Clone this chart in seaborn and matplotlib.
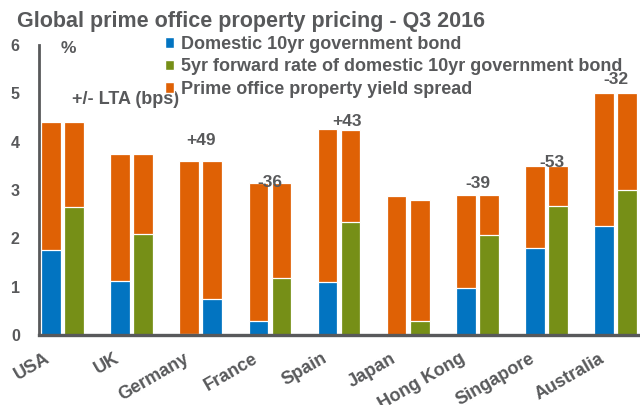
import matplotlib
matplotlib.use("Agg")
import matplotlib.pyplot as plt
from matplotlib.patches import Patch
from matplotlib.transforms import ScaledTranslation
import pandas as pd
import seaborn as sns

# ---- data -------------------------------------------------------------
countries = ["USA", "UK", "Germany", "France", "Spain", "Japan",
             "Hong Kong", "Singapore", "Australia"]
gov_10yr = [1.75, 1.11, 0.03, 0.30, 1.09, -0.04, 0.97, 1.80, 2.26]
fwd_5yr = [2.65, 2.10, 0.75, 1.18, 2.34, 0.29, 2.07, 2.66, 3.01]
# prime office yield = bond + spread (top of each stacked bar)
prime_yield_now = [4.40, 3.74, 3.60, 3.15, 4.26, 2.87, 2.90, 3.49, 5.00]
prime_yield_fwd = [4.40, 3.74, 3.60, 3.15, 4.25, 2.79, 2.90, 3.49, 5.00]
# series colour used for the base of the second bar of each pair
fwd_base_series = ["fwd", "fwd", "gov", "fwd", "fwd", "fwd", "fwd", "fwd", "fwd"]
lta_bps = ["", "", "+49", "-36", "+43", "", "-39", "-53", "-32"]

S_GOV = "Domestic 10yr government bond"
S_FWD = "5yr forward rate of domestic 10yr government bond"
S_SPREAD = "Prime office property yield spread"

# ---- styling ------------------------------------------------------------
BLUE = "#0274C1"
GREEN = "#768F17"
ORANGE = "#DF6105"
GREY = "#58595B"

sns.set_style("white")
plt.rcParams["font.family"] = ["Liberation Sans", "DejaVu Sans"]
plt.rcParams["font.weight"] = "bold"

# ---- long tables for seaborn -------------------------------------------
series_name = {"gov": S_GOV, "fwd": S_FWD}
base_rows, top_rows = [], []
for k, c in enumerate(countries):
    p1, p2 = 3 * k + 0.5, 3 * k + 1.5
    base_rows.append((p1, gov_10yr[k], S_GOV))
    base_rows.append((p2, fwd_5yr[k], series_name[fwd_base_series[k]]))
    top_rows.append((p1, prime_yield_now[k]))
    top_rows.append((p2, prime_yield_fwd[k]))
df_base = pd.DataFrame(base_rows, columns=["pos", "value", "series"])
df_top = pd.DataFrame(top_rows, columns=["pos", "value"])

fig = plt.figure(figsize=(6.4, 4.05), dpi=100)
ax = fig.add_axes([39.3 / 640, 70 / 405, 599.5 / 640, 290 / 405])

bar_kw = dict(native_scale=True, orient="x", width=0.85, errorbar=None,
              saturation=1, edgecolor="white", linewidth=0.9, clip_on=False, ax=ax)
sns.barplot(data=df_top, x="pos", y="value", color=ORANGE, **bar_kw)
sns.barplot(data=df_base, x="pos", y="value", hue="series",
            palette={S_GOV: BLUE, S_FWD: GREEN}, dodge=False, legend=False, **bar_kw)

ax.set_xlim(0, 26)
ax.set_ylim(0, 6)
ax.set_axisbelow(False)
ax.set_xlabel("")
ax.set_ylabel("")

# axes / ticks
for side in ("top", "right"):
    ax.spines[side].set_visible(False)
for side in ("left", "bottom"):
    ax.spines[side].set_color(GREY)
    ax.spines[side].set_zorder(5)
ax.spines["left"].set_linewidth(2.0)
ax.spines["bottom"].set_linewidth(2.4)

ax.set_yticks(range(0, 7))
ax.set_yticklabels([str(v) for v in range(0, 7)], fontsize=11.5, color=GREY, fontweight="bold")
ax.set_xticks(range(0, 27))
ax.set_xticklabels([])
ax.tick_params(axis="both", direction="in", length=4, width=1.6, color=GREY)
ax.tick_params(axis="y", pad=14)

# country labels, rotated under each pair
off = ScaledTranslation(-9 / 100, -15 / 100, fig.dpi_scale_trans)
for k, c in enumerate(countries):
    ax.text(3 * k + 1, 0, c, transform=ax.get_xaxis_transform() + off,
            rotation=30, ha="right", va="top", fontsize=13, color=GREY,
            fontweight="bold")

# spread vs long-term average annotations
lta_y = [None, None, 4.02, 3.15, 4.42, None, 3.13, 3.57, 5.29]
lta_dx = [0, 0, 0, 0, 0.35, 0, 0, 0.25, 0]
for k, lab in enumerate(lta_bps):
    if lab:
        ax.text(3 * k + 1 + lta_dx[k], lta_y[k], lab, ha="center", va="center",
                fontsize=12.5, color=GREY, fontweight="bold", zorder=6)
ax.text(3.72, 4.88, "+/- LTA (bps)", ha="center", va="center", fontsize=13,
        color=GREY, fontweight="bold")
ax.text(1.25, 5.93, "%", ha="center", va="center", fontsize=12.5, color=GREY,
        fontweight="bold")

# legend
handles = [Patch(facecolor=c, edgecolor="white", label=l)
           for c, l in ((BLUE, S_GOV), (GREEN, S_FWD), (ORANGE, S_SPREAD))]
leg = fig.legend(handles=handles, loc="upper left", bbox_to_anchor=(165 / 640, 1 - 36 / 405),
                 frameon=False, fontsize=13, handlelength=0.5, handleheight=0.5,
                 handletextpad=0.4, labelspacing=0.3, borderaxespad=0, borderpad=0)
for t in leg.get_texts():
    t.set_color(GREY)
    t.set_fontweight("bold")

fig.text(17 / 640, 1 - 27 / 405, "Global prime office property pricing - Q3 2016",
         ha="left", va="baseline", fontsize=15.5, color=GREY, fontweight="bold")

fig.savefig("out.png", dpi=100)
